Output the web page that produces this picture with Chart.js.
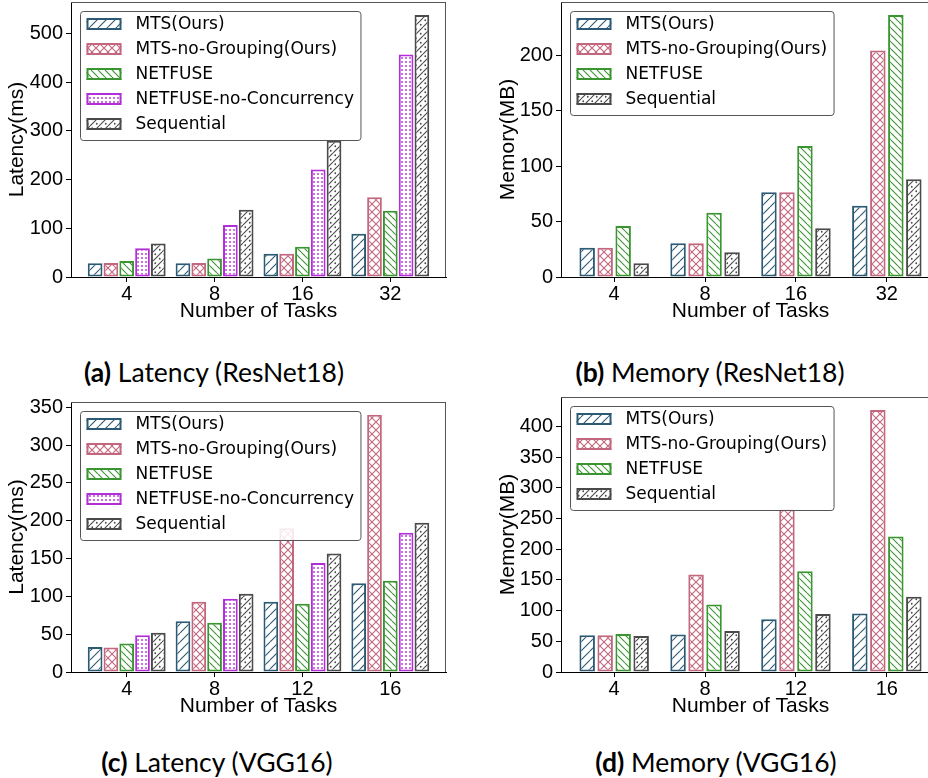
<!DOCTYPE html>
<html><head><meta charset="utf-8">
<script src="https://cdn.jsdelivr.net/npm/chart.js@4.4.1/dist/chart.umd.min.js"></script>
<style>
html,body{margin:0;padding:0;background:#fff;width:928px;height:778px;overflow:hidden;position:relative}
.pane{position:absolute;overflow:visible}
.cap{position:absolute;font-family:Lato,"Open Sans",sans-serif;font-size:26.5px;color:#000;white-space:nowrap;transform:translate(-50%,-50%)}
.cap b{font-weight:bold}
</style></head><body>
<canvas id="ca" class="pane" style="left:0;top:0" width="464" height="326"></canvas>
<canvas id="cb" class="pane" style="left:464px;top:0" width="480" height="326"></canvas>
<canvas id="cc" class="pane" style="left:0;top:390px" width="464" height="331"></canvas>
<canvas id="cd" class="pane" style="left:464px;top:390px" width="480" height="331"></canvas>
<div class="cap" style="left:214px;top:372px"><b>(a)</b> Latency (ResNet18)</div>
<div class="cap" style="left:710px;top:372px"><b>(b)</b> Memory (ResNet18)</div>
<div class="cap" style="left:217px;top:762px"><b>(c)</b> Latency (VGG16)</div>
<div class="cap" style="left:716px;top:762px"><b>(d)</b> Memory (VGG16)</div>
<script>
// ---------- data ----------
const seriesNames = ['MTS(Ours)', 'MTS-no-Grouping(Ours)', 'NETFUSE', 'NETFUSE-no-Concurrency', 'Sequential'];
const xLabelsRes = ['4', '8', '16', '32'];
const xLabelsVgg = ['4', '8', '12', '16'];

const resLatMTS  = [28, 28, 48, 89];
const resLatNoG  = [29, 29, 48, 164];
const resLatNF   = [33, 38, 62, 136];
const resLatNNC  = [59, 107, 221, 457];
const resLatSeq  = [69, 138, 280, 538];

const resMemMTS  = [26.4, 30.3, 76.3, 64.3];
const resMemNoG  = [26.4, 30.3, 76.3, 204];
const resMemNF   = [46, 58, 118, 236];
const resMemSeq  = [12.3, 22.2, 44, 88];

const vggLatMTS  = [33, 67, 93, 117.5];
const vggLatNoG  = [32.5, 93, 190, 340];
const vggLatNF   = [37.7, 65, 90.4, 120.6];
const vggLatNNC  = [48.7, 97, 144, 184];
const vggLatSeq  = [52, 103.5, 156.6, 197.4];

const vggMemMTS  = [60, 61, 86, 95.4];
const vggMemNoG  = [60, 159, 265, 426.6];
const vggMemNF   = [62, 110, 164, 220.6];
const vggMemSeq  = [58.5, 66.7, 94.3, 122.5];

const yTicksResLat = [0, 100, 200, 300, 400, 500];
const yTicksResMem = [0, 50, 100, 150, 200];
const yTicksVggLat = [0, 50, 100, 150, 200, 250, 300, 350];
const yTicksVggMem = [0, 50, 100, 150, 200, 250, 300, 350, 400];

// ---------- styles ----------
const colors = ['#2c5a75', '#c2677e', '#3a9530', '#b22ed6', '#4a4a4a'];
const kinds  = ['fwd', 'cross', 'back', 'dots', 'seq'];

function hatch(kind, color) {
  const s = {fwd: 9, cross: 8, back: 7, dots: 4, seq: 9}[kind];
  const c = document.createElement('canvas'); c.width = s; c.height = s;
  const g = c.getContext('2d');
  g.fillStyle = '#fff'; g.fillRect(0, 0, s, s);
  g.strokeStyle = color; g.fillStyle = color; g.lineWidth = 1.1;
  const fwd = () => { g.beginPath(); for (let k = -1; k <= 1; k++) { g.moveTo(k * s, s); g.lineTo(k * s + s, 0); } g.stroke(); };
  const back = () => { g.beginPath(); for (let k = -1; k <= 1; k++) { g.moveTo(k * s, 0); g.lineTo(k * s + s, s); } g.stroke(); };
  const dot = (x, y, r) => { g.beginPath(); g.arc(x, y, r, 0, Math.PI * 2); g.fill(); };
  if (kind === 'fwd') fwd();
  if (kind === 'back') back();
  if (kind === 'cross') { fwd(); back(); }
  if (kind === 'dots') dot(2, 2, 0.9);
  if (kind === 'seq') { fwd(); dot(2.25, 2.25, 0.9); dot(6.75, 6.75, 0.9); }
  return g.createPattern(c, 'repeat');
}
const patterns = kinds.map((k, i) => hatch(k, colors[i]));

// ---------- plugin: frame + legend ----------
const framePlugin = {
  id: 'frame',
  afterDatasetsDraw(chart) {
    const {ctx, chartArea: a} = chart;
    ctx.save();
    ctx.strokeStyle = '#555'; ctx.lineWidth = 1;
    ctx.beginPath();
    ctx.moveTo(a.left, a.top + 0.5); ctx.lineTo(a.right, a.top + 0.5);
    ctx.moveTo(a.right - 0.5, a.top); ctx.lineTo(a.right - 0.5, a.bottom);
    ctx.stroke();
    // legend
    const items = chart.data.datasets.map(d => ({label: d.label, bg: d.backgroundColor, bc: d.borderColor}));
    ctx.font = '17px "DejaVu Sans"';
    const maxW = Math.max(...items.map(it => ctx.measureText(it.label).width));
    const bx = a.left + 9.5, by = a.top + 9;
    const textX = bx + 55;
    const bw = textX + maxW + 7 - bx;
    const bh = 13 + (items.length - 1) * 25 + 16;
    ctx.beginPath();
    if (ctx.roundRect) ctx.roundRect(bx, by + 0.5, bw, bh, 3); else ctx.rect(bx, by + 0.5, bw, bh);
    ctx.fillStyle = 'rgba(255,255,255,0.85)'; ctx.fill();
    ctx.strokeStyle = '#555'; ctx.lineWidth = 1; ctx.stroke();
    items.forEach((it, i) => {
      const cy = by + 13 + i * 25;
      const px = bx + 6, pw = 35, ph = 12;
      ctx.fillStyle = it.bg; ctx.fillRect(px, cy - ph / 2, pw, ph);
      ctx.strokeStyle = it.bc; ctx.lineWidth = 2; ctx.strokeRect(px + 1, cy - ph / 2 + 1, pw - 2, ph - 2);
      ctx.fillStyle = '#000'; ctx.textBaseline = 'middle'; ctx.textAlign = 'left';
      ctx.fillText(it.label, textX, cy + 1);
    });
    ctx.restore();
  }
};

function makeChart(id, cfg) {
  const datasets = cfg.series.map(s => ({
    label: seriesNames[s.idx],
    data: s.values.map((v, i) => ({x: i, y: v})),
    backgroundColor: patterns[s.idx],
    borderColor: colors[s.idx],
    borderWidth: 2,
    borderSkipped: false,
    categoryPercentage: cfg.catPct,
    barPercentage: cfg.barPct
  }));
  const allVals = cfg.series.flatMap(s => s.values);
  const ymax = Math.max(...allVals) * 1.05;
  return new Chart(document.getElementById(id), {
    type: 'bar',
    data: {datasets},
    options: {
      responsive: false, animation: false, events: [],
      layout: {autoPadding: false, padding: {left: 0, top: cfg.top, right: cfg.padRight, bottom: 0}},
      plugins: {legend: {display: false}, tooltip: {enabled: false}},
      scales: {
        x: {
          type: 'linear', offset: false, min: -cfg.xm, max: 3 + cfg.xm,
          afterBuildTicks: s => { s.ticks = cfg.xLabels.map((l, i) => ({value: i})); },
          afterFit: s => { s.height = cfg.xh; s.paddingLeft = 0; s.paddingRight = 0; },
          grid: {offset: false, drawOnChartArea: false, drawTicks: true, tickLength: 5, tickColor: '#000', tickWidth: 1},
          border: {display: true, color: '#000', width: 1},
          ticks: {color: '#000', padding: 0, font: {family: '"Liberation Sans", Arial, sans-serif', size: 20}, maxRotation: 0,
                  callback: (v, i) => cfg.xLabels[i]},
          title: {display: true, text: 'Number of Tasks', color: '#000', padding: {top: 0, bottom: 4},
                  font: {family: '"Liberation Sans", Arial, sans-serif', size: 21, lineHeight: 1}}
        },
        y: {
          type: 'linear', min: 0, max: ymax,
          afterBuildTicks: s => { s.ticks = cfg.yTicks.map(v => ({value: v})); },
          afterFit: s => { s.width = cfg.yw; s.paddingTop = 0; s.paddingBottom = 0; },
          grid: {drawOnChartArea: false, drawTicks: true, tickLength: 5, tickColor: '#000', tickWidth: 1},
          border: {display: true, color: '#000', width: 1},
          ticks: {color: '#000', padding: 3, font: {family: '"Liberation Sans", Arial, sans-serif', size: 20},
                  callback: v => String(v)},
          title: {display: true, text: cfg.yTitle, color: '#000', padding: {top: cfg.ytPad, bottom: 0},
                  font: {family: '"Liberation Sans", Arial, sans-serif', size: 21, lineHeight: 1}}
        }
      }
    },
    plugins: [framePlugin]
  });
}

makeChart('ca', {
  series: [{idx: 0, values: resLatMTS}, {idx: 1, values: resLatNoG}, {idx: 2, values: resLatNF}, {idx: 3, values: resLatNNC}, {idx: 4, values: resLatSeq}],
  xLabels: xLabelsRes, yTicks: yTicksResLat, yTitle: 'Latency(ms)',
  top: 2, padRight: 18, yw: 71, xh: 49, xm: 0.634, catPct: 0.899, barPct: 0.93, ytPad: 7
});
makeChart('cb', {
  series: [{idx: 0, values: resMemMTS}, {idx: 1, values: resMemNoG}, {idx: 2, values: resMemNF}, {idx: 4, values: resMemSeq}],
  xLabels: xLabelsRes, yTicks: yTicksResMem, yTitle: 'Memory(MB)',
  top: 2, padRight: 4, yw: 97, xh: 49, xm: 0.585, catPct: 0.792, barPct: 0.86, ytPad: 34
});
makeChart('cc', {
  series: [{idx: 0, values: vggLatMTS}, {idx: 1, values: vggLatNoG}, {idx: 2, values: vggLatNF}, {idx: 3, values: vggLatNNC}, {idx: 4, values: vggLatSeq}],
  xLabels: xLabelsVgg, yTicks: yTicksVggLat, yTitle: 'Latency(ms)',
  top: 12, padRight: 18, yw: 71, xh: 49, xm: 0.634, catPct: 0.899, barPct: 0.93, ytPad: 7
});
makeChart('cd', {
  series: [{idx: 0, values: vggMemMTS}, {idx: 1, values: vggMemNoG}, {idx: 2, values: vggMemNF}, {idx: 4, values: vggMemSeq}],
  xLabels: xLabelsVgg, yTicks: yTicksVggMem, yTitle: 'Memory(MB)',
  top: 7, padRight: 4, yw: 97, xh: 49, xm: 0.585, catPct: 0.792, barPct: 0.86, ytPad: 34
});
</script>
</body></html>
